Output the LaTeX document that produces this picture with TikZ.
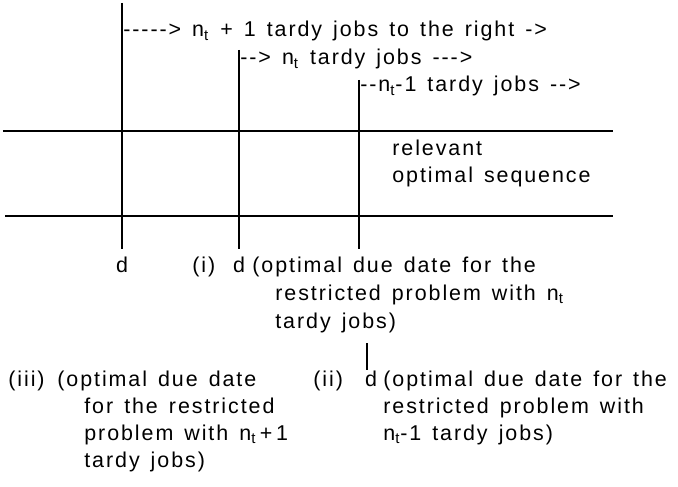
\documentclass[tikz,border=0pt]{standalone}
\usepackage{fontspec}
\setmainfont{Liberation Sans}[LetterSpace=9, WordSpace=1.4]
\begin{document}
\begin{tikzpicture}[every node/.style={font=\fontsize{12.2}{15.6}\selectfont, inner sep=0pt},
    txt/.style={anchor=base west}, rule/.style={line width=0.65pt}]
    \useasboundingbox (0,0) rectangle (13.56,9.72);
    % time axis: the two horizontal rules
    \coordinate (h1l) at (0.06,7.10); \coordinate (h1r) at (12.26,7.10);
    \coordinate (h2l) at (0.10,5.40); \coordinate (h2r) at (12.26,5.40);
    \draw[rule] (h1l) -- (h1r);
    \draw[rule] (h2l) -- (h2r);
    % the three due dates
    \coordinate (v1t) at (2.44,9.66); \coordinate (v1b) at (2.44,4.74);
    \coordinate (v2t) at (4.78,8.72); \coordinate (v2b) at (4.78,4.74);
    \coordinate (v3t) at (7.18,8.12); \coordinate (v3b) at (7.18,4.74);
    \draw[rule] (v1t) -- (v1b);
    \draw[rule] (v2t) -- (v2b);
    \draw[rule] (v3t) -- (v3b);
    \node[txt] (right1) at (2.46,8.98) {-{}-{}-{}-{}-> n\textsubscript{t} + 1 tardy jobs to the right ->};
    \node[txt] (right2) at (4.80,8.42) {-{}-> n\textsubscript{t} tardy jobs -{}-{}->};
    \node[txt] (right3) at (7.20,7.88) {-{}-n\textsubscript{t}-1 tardy jobs -{}->};
    \node[txt] (rel) at (7.84,6.60) {relevant};
    \node[txt] (seq) at (7.84,6.06) {optimal sequence};
    % labels under the axis
    \node[anchor=base] (d1) at (2.44,4.28) {d};
    \node[txt] (i) at (3.84,4.28) {(i)};
    \node[anchor=base] (d2) at (4.78,4.28) {d};
    \node[txt] (i1) at (5.04,4.28) {(optimal due date for the};
    \node[txt] (i2) at (5.50,3.72) {restricted problem with n\textsubscript{t}};
    \node[txt] (i3) at (5.50,3.16) {tardy jobs)};
    \coordinate (st) at (7.34,2.86);
    \node[txt] (ii) at (6.26,2.00) {(ii)};
    \node[anchor=base] (d3) at (7.42,2.00) {d};
    \draw[rule] (st) -- (st |- d3.north);
    \node[txt] (ii1) at (7.66,2.00) {(optimal due date for the};
    \node[txt] (ii2) at (7.66,1.46) {restricted problem with};
    \node[txt] (ii3) at (7.66,0.92) {n\textsubscript{t}-1 tardy jobs)};
    \node[txt] (iii) at (0.16,2.00) {(iii)};
    \node[txt] (iii1) at (1.14,2.00) {(optimal due date};
    \node[txt] (iii2) at (1.68,1.46) {for the restricted};
    \node[txt] (iii3) at (1.68,0.92) {problem with n\textsubscript{t}\,+\,1};
    \node[txt] (iii4) at (1.68,0.38) {tardy jobs)};
\end{tikzpicture}
\end{document}
